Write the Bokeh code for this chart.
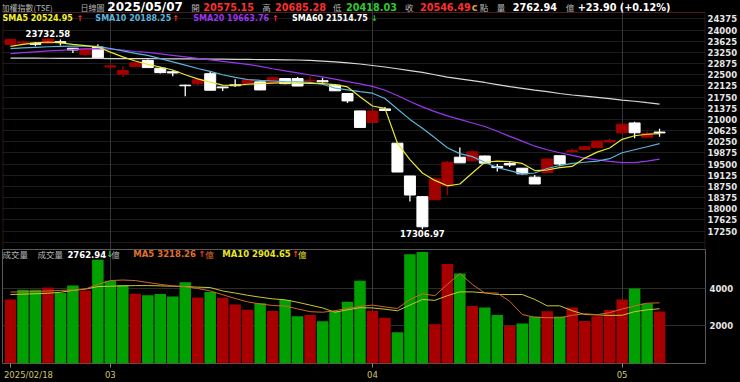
from bokeh.plotting import figure
from bokeh.models import Range1d, FixedTicker, Grid
from bokeh.layouts import column
from bokeh.embed import file_html
from bokeh.resources import INLINE
from bokeh.core.properties import value

# ---------------- data ----------------
dates = ["2025/02/18", "2025/02/19", "2025/02/20", "2025/02/21", "2025/02/24", "2025/02/25", "2025/02/26", "2025/02/27",
         "2025/03/03", "2025/03/04", "2025/03/05", "2025/03/06", "2025/03/07", "2025/03/10", "2025/03/11", "2025/03/12",
         "2025/03/13", "2025/03/14", "2025/03/17", "2025/03/18", "2025/03/19", "2025/03/20", "2025/03/21", "2025/03/24",
         "2025/03/25", "2025/03/26", "2025/03/27", "2025/03/28", "2025/03/31",
         "2025/04/01", "2025/04/02", "2025/04/07", "2025/04/08", "2025/04/09", "2025/04/10", "2025/04/11", "2025/04/14",
         "2025/04/15", "2025/04/16", "2025/04/17", "2025/04/18", "2025/04/21", "2025/04/22", "2025/04/23", "2025/04/24",
         "2025/04/25", "2025/04/28", "2025/04/29", "2025/04/30",
         "2025/05/02", "2025/05/05", "2025/05/06", "2025/05/07"]

opens = [23520, 23560, 23560, 23560, 23610, 23390, 23170, 23430, 22760, 22520,
         22780, 22980, 22720, 22600, 22150, 22200, 22535, 22090, 22160, 22200,
         22260, 22235, 22370, 22370, 22300, 22300, 22150, 21870, 21285, 20895,
         21350, 20200, 19100, 18405, 18300, 18780, 19730, 19610, 19770, 19420,
         19520, 19360, 19060, 19210, 19780, 19920, 19990, 20060, 20240, 20550,
         20880, 20400, 20575.15]
highs = [23700, 23660, 23600, 23732.58, 23680, 23400, 23400, 23520, 22820, 22780,
         22940, 23010, 22760, 22640, 22160, 22400, 22600, 22100, 22350, 22340,
         22270, 22400, 22390, 22420, 22440, 22400, 22150, 21870, 21285, 21330,
         21420, 20200, 19100, 18430, 19060, 19600, 20060, 19950, 19790, 19500,
         19560, 19360, 19130, 19690, 19780, 20020, 20110, 20290, 20360, 20850,
         20920, 20600, 20685.28]
lows = [23480, 23540, 23460, 23520, 23480, 23230, 23140, 23070, 22680, 22420,
        22750, 22740, 22540, 22450, 21780, 22150, 21980, 21950, 22090, 22190,
        21980, 22230, 22180, 22120, 22250, 22230, 21950, 21550, 20730, 20895,
        21280, 19232, 18240, 17306.97, 18290, 18460, 19540, 19600, 19520, 19250,
        19400, 19150, 18830, 19200, 19430, 19880, 19980, 20050, 20220, 20540,
        20370, 20390, 20418.03]
closes = [23680, 23600, 23520, 23700, 23580, 23330, 23370, 23070, 22800, 22640,
          22900, 22740, 22570, 22560, 22130, 22330, 21980, 22060, 22130, 22330,
          21990, 22400, 22200, 22120, 22320, 22260, 21960, 21620, 20730, 21280,
          21298, 19232, 18460, 17392, 19000, 19560, 19540, 19910, 19530, 19380,
          19470, 19170, 18830, 19670, 19500, 19950, 20080, 20270, 20290, 20840,
          20550, 20522.59, 20546.49]

sma5 = [23450, 23520, 23570, 23600, 23570, 23520, 23480, 23430, 23260, 23100,
        22960, 22850, 22760, 22660, 22500, 22360, 22250, 22150, 22140, 22180,
        22200, 22220, 22230, 22220, 22210, 22200, 22170, 22090, 21760, 21450,
        21370, 20200, 19650, 19200, 18950, 18770, 18830, 19200, 19560, 19600,
        19580, 19520, 19280, 19300, 19380, 19420, 19700, 19900, 20040, 20330,
        20450, 20500, 20524.95]
sma10 = [23375, 23400, 23420, 23440, 23450, 23460, 23460, 23450, 23380, 23300,
         23220, 23150, 23040, 22930, 22820, 22710, 22610, 22500, 22410, 22340,
         22310, 22290, 22270, 22260, 22240, 22180, 22050, 21990, 21930, 21880,
         21700, 21350, 21000, 20700, 20380, 20050, 19850, 19750, 19560, 19380,
         19280, 19170, 19200, 19350, 19450, 19520, 19560, 19600, 19680, 19880,
         19980, 20080, 20188.25]
sma20 = [23210, 23240, 23270, 23300, 23320, 23340, 23365, 23375, 23360, 23330,
         23280, 23250, 23200, 23150, 23100, 23050, 23000, 22950, 22900, 22850,
         22780, 22700, 22630, 22560, 22490, 22425, 22350, 22270, 22190, 22110,
         21980, 21800, 21600, 21420, 21260, 21120, 21000, 20880, 20760, 20600,
         20430, 20270, 20100, 19980, 19880, 19790, 19700, 19640, 19590, 19550,
         19550, 19600, 19663.76]
sma60 = [23060, 23058, 23056, 23054, 23052, 23050, 23048, 23046, 23044, 23042,
         23040, 23038, 23036, 23034, 23032, 23030, 23026, 23022, 23018, 23014,
         23010, 23005, 23000, 22995, 22985, 22960, 22930, 22900, 22860, 22810,
         22760, 22700, 22640, 22580, 22500, 22420, 22360, 22300, 22240, 22170,
         22100, 22040, 21980, 21930, 21870, 21820, 21780, 21740, 21700, 21650,
         21610, 21560, 21514.75]

volumes = [3400, 3913, 3913, 4030, 3743, 4135, 3880, 5500, 4390, 4170,
           3707, 3620, 3690, 3554, 4307, 3503, 3795, 3487, 3128, 2851,
           3195, 2785, 3364, 2513, 2580, 2236, 2785, 3282, 4390, 2800,
           2426, 1656, 5795, 5913, 2083, 5282, 4770, 3057, 2974, 2580,
           2000, 2118, 2493, 2769, 2493, 2974, 2256, 2513, 2836, 3400,
           3980, 3180, 2762.94]
vma5 = [3790, 3800, 3820, 3850, 3880, 3900, 3950, 4200, 4400, 4430,
        4400, 4300, 4200, 4120, 4080, 3980, 3850, 3650, 3450, 3270,
        3160, 3080, 3050, 2900, 2750, 2720, 2800, 2930, 3030, 3100,
        3000, 2920, 3400, 3700, 3600, 4200, 4770, 4200, 3740, 3740,
        3300, 2600, 2450, 2430, 2420, 2560, 2640, 2590, 2700, 2890,
        3050, 3200, 3218.26]
vma10 = [3660, 3680, 3700, 3730, 3780, 3880, 3950, 4080, 4100, 4120,
         4135, 4135, 4120, 4100, 4080, 4050, 4030, 3850, 3740, 3620,
         3520, 3430, 3380, 3250, 3100, 2950, 2720, 2850, 2960, 2950,
         2880, 2800, 3100, 3400, 3350, 3600, 3800, 3800, 3750, 3660,
         3660, 3660, 3400, 3060, 3060, 2800, 2600, 2580, 2550, 2560,
         2750, 2850, 2904.65]

price_ticks = [17250, 17625, 18000, 18375, 18750, 19125, 19500, 19875, 20250, 20625,
               21000, 21375, 21750, 22125, 22500, 22875, 23250, 23625, 24000, 24375]
vol_ticks = [2000, 4000]

# ---------------- styling / layout constants ----------------
BG = "#000000"
UP = "#a30000"
DOWN = "#ffffff"
VUP = "#a80000"
VDOWN = "#00a000"
GRAY = "#b4b4b4"
RED = "#ff2e2e"
GREEN = "#2ecc2e"
BORDER = "#4a1c1c"
NUM_FONT = value("DejaVu Sans")
CJK_FONT = value("Noto Sans CJK TC")

W = 740
PPX = 7960 / 237.0          # price units per pixel
P_LO = 16630
P_BOX = 24590               # top of the price panel box
P_H = 249                   # price figure height (frame runs from the top of the page)
P_HI = P_LO + P_H * PPX
V_HI = 6050
V_H = 133
X0, X1 = -0.64, 55.68

n = len(closes)
xs = list(range(n))

month_starts = [i for i in range(1, n) if dates[i][5:7] != dates[i - 1][5:7]]


def px_to_x(px):
    return X0 + (px - 2) * (X1 - X0) / 704.0


def sy_to_price(sy):
    return P_HI - sy * PPX


def sy_to_vol(sy):
    return V_HI - (sy - 249) * V_HI / 118.0


# ---------------- price figure ----------------
p = figure(width=W, height=P_H, x_range=Range1d(X0, X1), y_range=Range1d(P_LO, P_HI),
           toolbar_location=None, output_backend="svg", y_axis_location="right", x_axis_location=None,
           min_border_left=2, min_border_right=34, min_border_top=0, min_border_bottom=0,
           background_fill_color=BG, border_fill_color=BG, outline_line_color=None)
p.xgrid.visible = False
p.add_layout(Grid(dimension=0, ticker=FixedTicker(ticks=month_starts), grid_line_color="#363636"))
p.yaxis.ticker = FixedTicker(ticks=price_ticks)
p.ygrid.ticker = FixedTicker(ticks=[price_ticks[0] - 375] + price_ticks)
p.ygrid.grid_line_color = "#1c1c1c"
p.yaxis.axis_line_color = None
p.yaxis.major_tick_out = 0
p.yaxis.major_tick_in = 0
p.yaxis.minor_tick_out = 0
p.yaxis.minor_tick_in = 0
p.yaxis.major_label_standoff = 2
p.yaxis.major_label_text_color = "#e6e6e6"
p.yaxis.major_label_text_font = "DejaVu Sans"
p.yaxis.major_label_text_font_style = "bold"
p.yaxis.major_label_text_font_size = "8.5px"

# panel box (top, left, right)
p.segment(x0=[X0, X0 + 0.03, X1 - 0.03], y0=[P_BOX, P_LO, P_LO],
          x1=[X1, X0 + 0.03, X1 - 0.03], y1=[P_BOX, P_BOX, P_BOX], line_color=BORDER, line_width=1)

is_up = [c > o for o, c in zip(opens, closes)]
ccol = [UP if u else DOWN for u in is_up]
tops = [max(o, c) for o, c in zip(opens, closes)]
bots = [min(o, c) for o, c in zip(opens, closes)]

p.segment(x0=xs, y0=lows, x1=xs, y1=highs, line_color=ccol, line_width=1.3)
p.vbar(x=xs, top=tops, bottom=bots, width=0.88, fill_color=ccol, line_color=ccol, line_width=1)

p.line(xs, sma60, line_color="#d8d8d8", line_width=1.2)
p.line(xs, sma20, line_color="#9a36ee", line_width=1.2)
p.line(xs, sma10, line_color="#5ab4dc", line_width=1.2)
p.line(xs, sma5, line_color="#e8e830", line_width=1.2)

# header row
chg = closes[-1] - closes[-2]
header_items = [
    (1, "加權指數(TSE)", GRAY, CJK_FONT, "8px", "normal"),
    (80, "日線圖", GRAY, CJK_FONT, "8px", "normal"),
    (107, dates[-1], "#ffffff", NUM_FONT, "12px", "bold"),
    (191, "開", GRAY, CJK_FONT, "8.5px", "normal"),
    (203, f"{opens[-1]:.2f}", RED, NUM_FONT, "9.7px", "bold"),
    (262, "高", GRAY, CJK_FONT, "8.5px", "normal"),
    (275, f"{highs[-1]:.2f}", RED, NUM_FONT, "9.7px", "bold"),
    (333, "低", GRAY, CJK_FONT, "8.5px", "normal"),
    (346, f"{lows[-1]:.2f}", GREEN, NUM_FONT, "9.7px", "bold"),
    (405, "收", GRAY, CJK_FONT, "8.5px", "normal"),
    (420, f"{closes[-1]:.2f}", RED, NUM_FONT, "9.7px", "bold"),
    (472, "c", "#e0a040", NUM_FONT, "9.7px", "bold"),
    (480, "點", GRAY, CJK_FONT, "8.5px", "normal"),
    (497, "量", GRAY, CJK_FONT, "8.5px", "normal"),
    (513, f"{volumes[-1]:.2f}", "#ffffff", NUM_FONT, "9.7px", "bold"),
    (566, "億", GRAY, CJK_FONT, "8.5px", "normal"),
    (578, f"{chg:+.2f} ({chg / closes[-2] * 100:+.2f}%)", "#ffffff", NUM_FONT, "9.7px", "bold"),
]
for px, t, col, font, size, style in header_items:
    p.text(x=[px_to_x(px)], y=[sy_to_price(6.5)], text=[t], text_color=col, text_font=font,
           text_font_size=size, text_font_style=style, text_baseline="middle", text_align="left")

# SMA legend row
sma_y = sy_to_price(17.5)
sma_items = [
    (2, f"SMA5 {sma5[-1]:.2f}", "#f0f030"),
    (76, "↑", RED),
    (95, f"SMA10 {sma10[-1]:.2f}", "#5ab4dc"),
    (172, "↑", RED),
    (193, f"SMA20 {sma20[-1]:.2f}", "#9a36ee"),
    (272, "↑", RED),
    (292, f"SMA60 {sma60[-1]:.2f}", "#ffffff"),
    (371, "↓", GREEN),
]
for px, t, col in sma_items:
    p.text(x=[px_to_x(px)], y=[sma_y], text=[t], text_color=col, text_font=NUM_FONT,
           text_font_size="8px", text_font_style="bold", text_baseline="middle", text_align="left")

# max / min labels
imax = max(range(n), key=lambda i: highs[i])
imin = min(range(n), key=lambda i: lows[i])
p.text(x=[imax], y=[highs[imax]], text=[f"{highs[imax]:.2f}"], text_color="#ffffff", text_font=NUM_FONT,
       text_font_size="8.5px", text_font_style="bold", text_baseline="bottom", text_align="center", y_offset=-1)
p.text(x=[imin], y=[lows[imin]], text=[f"{lows[imin]:.2f}"], text_color="#ffffff", text_font=NUM_FONT,
       text_font_size="8.5px", text_font_style="bold", text_baseline="top", text_align="center", y_offset=1)

# ---------------- volume figure ----------------
v = figure(width=W, height=V_H, x_range=p.x_range, y_range=Range1d(0, V_HI),
           toolbar_location=None, output_backend="svg", y_axis_location="right",
           min_border_left=2, min_border_right=34, min_border_top=0, min_border_bottom=15,
           background_fill_color=BG, border_fill_color=BG, outline_line_color="#5a5a5a")
v.xgrid.visible = False
v.add_layout(Grid(dimension=0, ticker=FixedTicker(ticks=month_starts), grid_line_color="#3a3a3a"))
v.yaxis.ticker = FixedTicker(ticks=vol_ticks)
v.ygrid.ticker = FixedTicker(ticks=vol_ticks)
v.ygrid.grid_line_color = "#2c2c2c"
v.yaxis.axis_line_color = None
v.yaxis.major_tick_out = 0
v.yaxis.major_tick_in = 0
v.yaxis.minor_tick_out = 0
v.yaxis.minor_tick_in = 0
v.yaxis.major_label_standoff = 4
v.yaxis.major_label_text_color = "#e6e6e6"
v.yaxis.major_label_text_font = "DejaVu Sans"
v.yaxis.major_label_text_font_style = "bold"
v.yaxis.major_label_text_font_size = "8.5px"

first_label_pos = 1.44
xticks = [first_label_pos] + month_starts
overrides = {first_label_pos: dates[0]}
for m in month_starts:
    overrides[m] = dates[m][5:7]
v.xaxis.ticker = FixedTicker(ticks=xticks, minor_ticks=[0] + month_starts)
v.xaxis.major_label_overrides = overrides
v.xaxis.axis_line_color = None
v.xaxis.major_tick_out = 0
v.xaxis.major_tick_in = 0
v.xaxis.minor_tick_out = 4
v.xaxis.minor_tick_in = 0
v.xaxis.minor_tick_line_color = "#8a8a8a"
v.xaxis.major_label_standoff = 2
v.xaxis.major_label_text_color = "#d2c470"
v.xaxis.major_label_text_font = "DejaVu Sans"
v.xaxis.major_label_text_font_size = "8.5px"

vol_up = [True] + [closes[i] > closes[i - 1] for i in range(1, n)]
vcol = [VUP if u else VDOWN for u in vol_up]
v.vbar(x=xs, top=volumes, bottom=0, width=0.92, fill_color=vcol, line_color=None)
v.line(xs, vma10, line_color="#c8c832", line_width=1)
v.line(xs, vma5, line_color="#cc6a2a", line_width=1)

vol_y = sy_to_vol(254)
vol_items = [
    (2, "成交量", GRAY, CJK_FONT, "normal"),
    (37, "成交量", GRAY, CJK_FONT, "normal"),
    (67, f"{volumes[-1]:.2f}", "#ffffff", NUM_FONT, "bold"),
    (106, "↓", GREEN, NUM_FONT, "bold"),
    (111, "億", GRAY, CJK_FONT, "normal"),
    (133, f"MA5 {vma5[-1]:.2f}", "#e0702a", NUM_FONT, "bold"),
    (198, "↑", RED, NUM_FONT, "bold"),
    (205, "億", "#e0702a", CJK_FONT, "normal"),
    (222, f"MA10 {vma10[-1]:.2f}", "#e6e62a", NUM_FONT, "bold"),
    (292, "↑", RED, NUM_FONT, "bold"),
    (298, "億", "#e6e62a", CJK_FONT, "normal"),
]
for px, t, col, font, style in vol_items:
    v.text(x=[px_to_x(px)], y=[vol_y], text=[t], text_color=col, text_font=font,
           text_font_size="8.5px", text_font_style=style, text_baseline="middle", text_align="left")

layout = column(p, v, spacing=0)

html = file_html(layout, INLINE, title="加權指數")
html = html.replace("</head>", "<style>html,body{margin:0;padding:0;background:#000;overflow:hidden;}</style></head>", 1)
open("out.html", "w").write(html)
